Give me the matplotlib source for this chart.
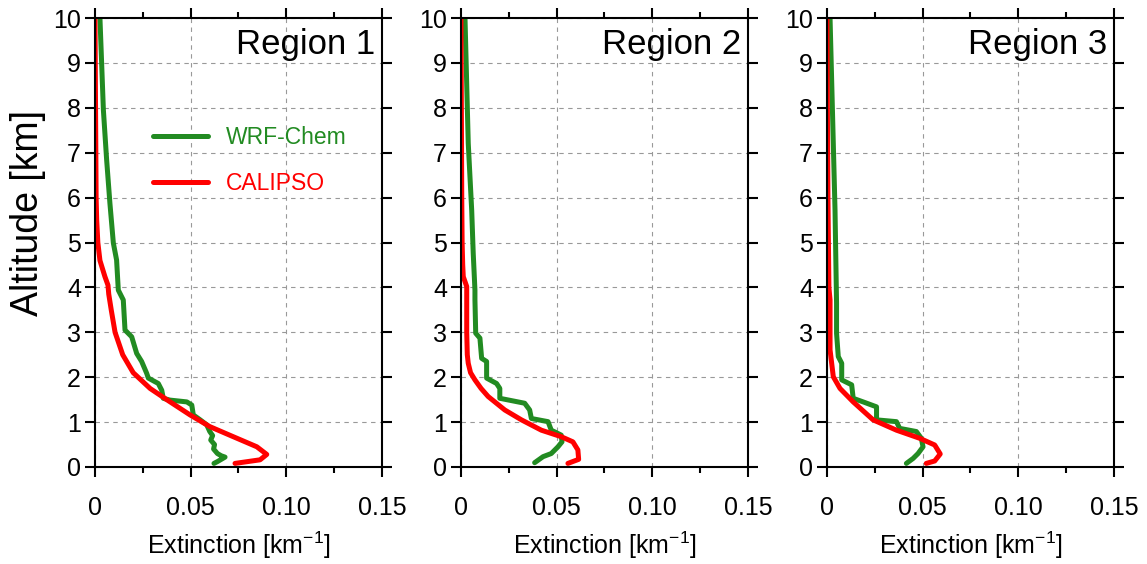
import matplotlib.pyplot as plt
from matplotlib.ticker import MultipleLocator

plt.rcParams['font.family'] = ['Liberation Sans', 'DejaVu Sans']
plt.rcParams['mathtext.default'] = 'regular'

regions = ['Region 1', 'Region 2', 'Region 3']

# WRF-Chem profiles (altitude km, extinction km-1)
wrf1_alt = [10, 7.95, 6.84, 5.88, 4.99, 4.61, 3.94, 3.72, 3.05, 2.9, 2.53, 2.35, 2.09, 1.98, 1.86, 1.71, 1.53,
            1.49, 1.45, 1.38, 1.16, 1.05, 0.94, 0.79, 0.7, 0.6, 0.5, 0.4, 0.3, 0.25, 0.22, 0.17, 0.12, 0.08]
wrf1_ext = [0.0026, 0.0044, 0.0061, 0.0078, 0.0096, 0.0113, 0.0122, 0.0148, 0.0157, 0.0192, 0.0218, 0.0244, 0.027,
            0.0279, 0.0331, 0.0349, 0.0357, 0.0392, 0.048, 0.0506, 0.0514, 0.055, 0.0584, 0.060, 0.0615, 0.0605,
            0.0625, 0.062, 0.064, 0.066, 0.068, 0.066, 0.064, 0.0622]
wrf2_alt = [10, 7.21, 5.72, 4.76, 3.94, 3.72, 2.98, 2.87, 2.42, 2.35, 1.98, 1.86, 1.75, 1.53, 1.42, 1.27, 1.08,
            1.01, 0.82, 0.71, 0.56, 0.45, 0.30, 0.23, 0.096]
wrf2_ext = [0.0021, 0.0038, 0.0056, 0.0064, 0.0073, 0.0073, 0.0077, 0.0099, 0.0108, 0.0134, 0.0134, 0.0186,
            0.0203, 0.0203, 0.0333, 0.0359, 0.0368, 0.0455, 0.0472, 0.0524, 0.0528, 0.0507, 0.0472, 0.0429, 0.0385]
wrf3_alt = [10, 5.72, 3.65, 2.98, 2.46, 2.31, 1.94, 1.83, 1.53, 1.45, 1.34, 1.05, 1.01, 0.86, 0.79, 0.64, 0.45,
            0.30, 0.19, 0.08]
wrf3_ext = [0.0016, 0.0042, 0.005, 0.005, 0.0059, 0.0077, 0.0077, 0.0129, 0.0137, 0.0189, 0.0259, 0.0259,
            0.0363, 0.038, 0.0467, 0.0493, 0.0502, 0.0476, 0.045, 0.0415]

# CALIPSO profiles
cal1_alt = [10, 8, 6, 5.5, 5, 4.6, 4.24, 4.05, 3.85, 3.5, 3.0, 2.5, 2.1, 1.75, 1.5, 1.16, 0.9, 0.68, 0.45,
            0.28, 0.16, 0.08]
cal1_ext = [0.0, 0.0003, 0.0006, 0.0009, 0.0015, 0.0026, 0.0052, 0.0068, 0.0072, 0.0085, 0.0105, 0.0145, 0.020,
            0.0288, 0.0375, 0.0497, 0.060, 0.072, 0.0846, 0.0898, 0.0863, 0.0732]
cal2_alt = [10, 8, 6, 5, 4.5, 4.24, 4.02, 3.5, 3.0, 2.5, 2.31, 2.1, 1.94, 1.75, 1.57, 1.27, 1.05, 0.82, 0.675,
            0.56, 0.38, 0.17, 0.08]
cal2_ext = [0.0, 0.0002, 0.0004, 0.0006, 0.0009, 0.0012, 0.0030, 0.0030, 0.0030, 0.0033, 0.0038, 0.0050, 0.0073,
            0.0105, 0.0142, 0.0229, 0.0316, 0.042, 0.0524, 0.0585, 0.0611, 0.0615, 0.0559]
cal3_alt = [10, 8, 6, 4, 3.72, 2.61, 2.01, 1.75, 1.45, 1.05, 0.82, 0.64, 0.49, 0.29, 0.134, 0.08]
cal3_ext = [0.0, 0.0002, 0.0005, 0.0010, 0.0016, 0.0016, 0.0033, 0.0068, 0.0137, 0.0241, 0.0363, 0.0484,
            0.0563, 0.0592, 0.0563, 0.0519]

wrf = [(wrf1_ext, wrf1_alt), (wrf2_ext, wrf2_alt), (wrf3_ext, wrf3_alt)]
cal = [(cal1_ext, cal1_alt), (cal2_ext, cal2_alt), (cal3_ext, cal3_alt)]

green = '#228b22'
red = '#ff0000'

fig = plt.figure(figsize=(11.47, 5.64), dpi=100)
lefts = [0.0828, 0.4019, 0.7210]

for i in range(3):
	ax = fig.add_axes([lefts[i], 0.172, 0.2502, 0.796])
	ax.plot(wrf[i][0], wrf[i][1], color=green, lw=3.6, label='WRF-Chem', solid_capstyle='round')
	ax.plot(cal[i][0], cal[i][1], color=red, lw=3.6, label='CALIPSO', solid_capstyle='round')

	ax.set_xlim(0, 0.15)
	ax.set_ylim(0, 10)
	ax.set_xticks([0, 0.05, 0.10, 0.15])
	ax.set_xticklabels(['0', '0.05', '0.10', '0.15'])
	ax.xaxis.set_minor_locator(MultipleLocator(0.025))
	ax.set_yticks(range(0, 11))
	ax.tick_params(which='both', direction='out', top=True, right=True, width=1.5, labelsize=18)
	ax.tick_params(which='major', length=7)
	ax.tick_params(which='minor', length=4)
	ax.tick_params(axis='x', pad=14)
	ax.tick_params(axis='y', pad=3)
	for s in ax.spines.values():
		s.set_linewidth(1.5)
	ax.grid(True, which='major', ls=(0, (4, 4)), color='0.6', lw=0.8)
	ax.set_axisbelow(True)

	ax.text(0.975, 0.94, regions[i], transform=ax.transAxes, ha='right', va='center', fontsize=25)
	ax.set_xlabel('Extinction [km$^{-1}$]', fontsize=18, labelpad=7)
	if i == 0:
		ax.set_ylabel('Altitude [km]', fontsize=27)
		ax.yaxis.set_label_coords(-0.172, 0.565)
		ax.legend(loc='upper left', bbox_to_anchor=(0.13, 0.805), frameon=False, fontsize=16.5,
		          handlelength=2.4, handletextpad=0.8, labelspacing=1.0, labelcolor='linecolor')

plt.savefig('out.png')
